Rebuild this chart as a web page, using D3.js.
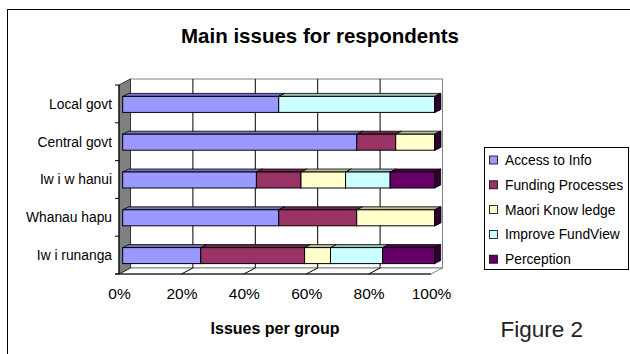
<!DOCTYPE html>
<html>
<head>
<meta charset="utf-8">
<script src="https://cdn.jsdelivr.net/npm/d3@7"></script>
<style>
  body { margin: 0; background: #fff; }
  svg { display: block; font-family: "Liberation Sans", Arial, sans-serif; }
</style>
</head>
<body>
<svg></svg>
<script>
const width = 630;
const height = 354;

// data (share of issues per group, %)
const categories = ["Local govt", "Central govt", "Iw i w hanui", "Whanau hapu", "Iw i runanga"];
const seriesNames = ["Access to Info", "Funding Processes", "Maori Know ledge", "Improve FundView", "Perception"];
const accessToInfo = [50, 75, 42.9, 50, 25];
const fundingProcesses = [0, 12.5, 14.3, 25, 33.3];
const maoriKnowledge = [0, 12.5, 14.3, 25, 8.3];
const improveFundView = [50, 0, 14.3, 0, 16.7];
const perception = [0, 0, 14.3, 0, 16.7];
const tickValues = [0, 0.2, 0.4, 0.6, 0.8, 1];
const tickLabels = ["0%", "20%", "40%", "60%", "80%", "100%"];
const colors = ["#9999ff", "#993366", "#ffffcc", "#ccffff", "#660066"];

const allSeries = [accessToInfo, fundingProcesses, maoriKnowledge, improveFundView, perception];
const rows = categories.map((c, i) => {
    let r = { cat: c };
    seriesNames.forEach((s, j) => r[s] = allSeries[j][i]);
    return r;
});

let svg = d3.select("svg").attr("width", width).attr("height", height);

// outer frame
svg.append("rect").attr("x", 7.5).attr("y", 9.5).attr("width", 700).attr("height", 400)
    .attr("fill", "none").attr("stroke", "#000").attr("stroke-width", 1);

svg.append("text").attr("x", 320).attr("y", 42.5).attr("text-anchor", "middle")
    .attr("font-size", 20.5).attr("font-weight", "bold").text("Main issues for respondents");

// 3d frame
const x0 = 119, x1 = 431, yTop = 85, yBot = 274;
const dx = 11.5, dy = -6;
const x = d3.scaleLinear().domain([0, 1]).range([x0, x1]);
const y = d3.scaleBand().domain(categories).range([yTop, yBot]);

const pts = (arr) => arr.map(p => p.join(",")).join(" ");

// back wall
svg.append("rect").attr("x", x0 + dx).attr("y", yTop + dy).attr("width", x1 - x0).attr("height", yBot - yTop)
    .attr("fill", "#fff").attr("stroke", "#808080");
// floor
svg.append("polygon").attr("points", pts([[x0, yBot], [x1, yBot], [x1 + dx, yBot + dy], [x0 + dx, yBot + dy]]))
    .attr("fill", "#fff").attr("stroke", "#808080");
// gridlines on wall and floor
tickValues.slice(1, -1).forEach(t => {
    svg.append("line").attr("x1", x(t) + dx).attr("x2", x(t) + dx).attr("y1", yTop + dy).attr("y2", yBot + dy)
        .attr("stroke", "#000");
    svg.append("line").attr("x1", x(t)).attr("x2", x(t) + dx).attr("y1", yBot).attr("y2", yBot + dy)
        .attr("stroke", "#000");
});
// side wall
svg.append("polygon").attr("points", pts([[x0, yTop], [x0 + dx, yTop + dy], [x0 + dx, yBot + dy], [x0, yBot]]))
    .attr("fill", "#808080").attr("stroke", "#333");

// axis lines
svg.append("line").attr("x1", x0).attr("x2", x0).attr("y1", yTop).attr("y2", yBot).attr("stroke", "#000");
svg.append("line").attr("x1", x0 - 4).attr("x2", x1).attr("y1", yBot).attr("y2", yBot).attr("stroke", "#000");
d3.range(categories.length + 1).forEach(i => {
    let yy = yTop + i * y.step();
    svg.append("line").attr("x1", x0 - 4).attr("x2", x0).attr("y1", yy).attr("y2", yy).attr("stroke", "#000");
});

// bars
const stack = d3.stack().keys(seriesNames).offset(d3.stackOffsetExpand);
const stacked = stack(rows);
const bShift = 3.7, barH = 16, bdx = 6, bdy = -3;
const shade = (c, k) => { let r = d3.rgb(c); return d3.rgb(r.r * k, r.g * k, r.b * k); };

let bars = svg.append("g");
categories.forEach((c, ci) => {
    let top = y(c) + y.bandwidth() / 2 + 0.5 - barH / 2;
    let bot = top + barH;
    stacked.forEach((s, si) => {
        let a = x(s[ci][0]) + bShift, b = x(s[ci][1]) + bShift;
        let col = colors[si];
        bars.append("polygon").attr("points", pts([[b, top], [b + bdx, top + bdy], [b + bdx, bot + bdy], [b, bot]]))
            .attr("fill", shade(col, 0.45)).attr("stroke", "#000").attr("stroke-width", 0.8);
        if (b - a > 0.01) {
            bars.append("polygon").attr("points", pts([[a, top], [a + bdx, top + bdy], [b + bdx, top + bdy], [b, top]]))
                .attr("fill", shade(col, 0.75)).attr("stroke", "#000").attr("stroke-width", 0.8);
            bars.append("rect").attr("x", a).attr("y", top).attr("width", b - a).attr("height", barH)
                .attr("fill", col).attr("stroke", "#000").attr("stroke-width", 1);
        }
    });
});

// axis labels
let yAxis = svg.append("g").attr("transform", `translate(${x0 - 7},0)`)
    .call(d3.axisLeft(y).tickSize(0).tickPadding(0));
yAxis.select(".domain").remove();
yAxis.selectAll("text").attr("font-size", 13.8).attr("font-family", null).attr("fill", "#000").attr("dy", "0.36em");

let xAxis = svg.append("g").attr("transform", `translate(0,${yBot})`)
    .call(d3.axisBottom(x).tickValues(tickValues).tickSize(0).tickFormat((d, i) => tickLabels[i]));
xAxis.select(".domain").remove();
xAxis.selectAll("text").attr("font-size", 15.5).attr("font-family", null).attr("fill", "#000")
    .attr("y", 25).attr("dy", 0);

svg.append("text").attr("x", 275).attr("y", 334).attr("text-anchor", "middle")
    .attr("font-size", 16).attr("font-weight", "bold").text("Issues per group");

// legend
let legend = svg.append("g");
legend.append("rect").attr("x", 484.5).attr("y", 147.5).attr("width", 144).attr("height", 122)
    .attr("fill", "#fff").attr("stroke", "#000");
seriesNames.forEach((s, i) => {
    let ly = 160 + i * 24.8;
    legend.append("rect").attr("x", 489.5).attr("y", ly - 4).attr("width", 8).attr("height", 8)
        .attr("fill", colors[i]).attr("stroke", "#000").attr("stroke-width", 0.8);
    legend.append("text").attr("x", 505).attr("y", ly).attr("dy", "0.36em").attr("font-size", 13.8).text(s);
});

svg.append("text").attr("x", 583).attr("y", 337).attr("text-anchor", "end")
    .attr("font-size", 22.5).attr("fill", "#222").text("Figure 2");
</script>
</body>
</html>
